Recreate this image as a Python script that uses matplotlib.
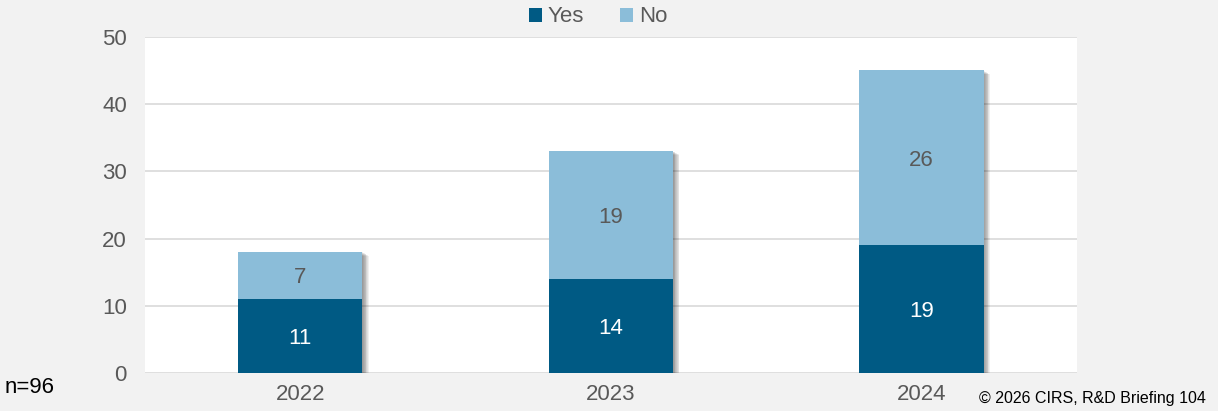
import numpy as np
import matplotlib.pyplot as plt
import matplotlib.transforms as mtransforms

years = ['2022', '2023', '2024']
yes_vals = [11, 14, 19]
no_vals = [7, 19, 26]

yes_color = '#005a84'
no_color = '#8bbdd9'
text_color = '#595959'
bg_color = '#f2f2f2'

plt.rcParams['font.family'] = ['Liberation Sans', 'DejaVu Sans']

fig = plt.figure(figsize=(12.18, 4.11), dpi=100, facecolor=bg_color)
ax = fig.add_axes([0.119, 0.0925, 0.765, 0.818])
ax.set_facecolor('white')

x = np.arange(len(years))
width = 0.4
totals = np.array(yes_vals) + np.array(no_vals)

# soft drop shadow behind each stacked bar
for k in range(1, 9):
    tr = mtransforms.offset_copy(ax.transData, fig=fig, x=k * 0.8, y=-k * 0.45, units='dots')
    ax.bar(x, totals, width, color='black', alpha=0.06, transform=tr, zorder=2, linewidth=0)

ax.bar(x, yes_vals, width, color=yes_color, label='Yes', zorder=3)
ax.bar(x, no_vals, width, bottom=yes_vals, color=no_color, label='No', zorder=3)

for i in range(len(years)):
    ax.text(x[i], yes_vals[i] / 2, str(yes_vals[i]), ha='center', va='center_baseline',
            color='white', fontsize=16, zorder=4)
    ax.text(x[i], yes_vals[i] + no_vals[i] / 2, str(no_vals[i]), ha='center',
            va='center_baseline', color=text_color, fontsize=16, zorder=4)

ax.set_xlim(-0.5, 2.5)
ax.set_ylim(0, 50)
ax.set_yticks(range(0, 51, 10))
ax.set_xticks(x)
ax.set_xticklabels(years)
ax.yaxis.grid(True, color='#d9d9d9', linewidth=1.2, zorder=0)
ax.set_axisbelow(True)
for s in ax.spines.values():
    s.set_visible(False)
ax.tick_params(length=0, labelsize=16, colors=text_color)
ax.tick_params(axis='y', pad=13)
ax.tick_params(axis='x', pad=8)

leg = fig.legend(loc='upper center', bbox_to_anchor=(0.491, 1.033), ncol=2, frameon=False,
                 fontsize=16, handlelength=0.6, handleheight=0.6, handletextpad=0.25,
                 columnspacing=1.6)
for t in leg.get_texts():
    t.set_color(text_color)

fig.text(0.004, 0.058, 'n=96', fontsize=16, color='black', va='center')
fig.text(0.99, 0.03, '\u00a9 2026 CIRS, R&D Briefing 104', fontsize=11.5,
         color='black', ha='right', va='center')

fig.savefig('out.png', dpi=100, facecolor=bg_color)
